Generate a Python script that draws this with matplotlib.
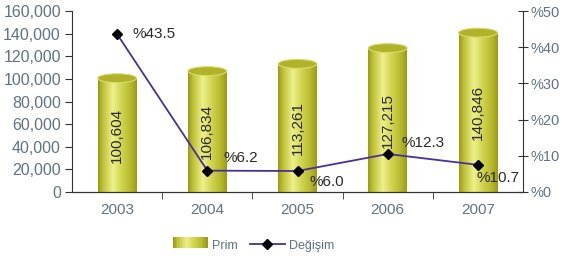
import matplotlib.pyplot as plt
import numpy as np
from matplotlib.colors import LinearSegmentedColormap
from matplotlib.patches import Rectangle, Ellipse, Patch
from matplotlib.lines import Line2D
from matplotlib.legend_handler import HandlerBase

plt.rcParams['font.family'] = ['Liberation Sans', 'DejaVu Sans']

years = ['2003', '2004', '2005', '2006', '2007']
prim = [100604, 106834, 113261, 127215, 140846]
degisim = [43.6, 5.9, 5.8, 10.5, 7.5]   # positions as drawn in the picture
prim_labels = ['100,604', '106,834', '113,261', '127,215', '140,846']
degisim_labels = ['%43.5', '%6.2', '%6.0', '%12.3', '%10.7']
# label offsets in pixels (dx, dy)
lab_off = [(15, 0), (16, 13), (12, -11), (14, 11), (-1, -13)]

gray = '#5f7384'
axc = '#333333'

fig = plt.figure(figsize=(5.63, 2.63), dpi=100)
ax = fig.add_axes([0.128, 0.27, 0.801, 0.688])
ax2 = ax.twinx()

cyl = LinearSegmentedColormap.from_list('cyl', [
    (0.0, '#9a9c18'), (0.12, '#bfc136'), (0.38, '#eef08c'),
    (0.6, '#d3d552'), (0.85, '#b6b82c'), (1.0, '#9a9c18')])
grad = np.linspace(0, 1, 64).reshape(1, -1)

w = 0.43
eh = 7900
x = np.arange(len(years))
for i, v in enumerate(prim):
    rect = Rectangle((x[i] - w / 2, 0), w, v, transform=ax.transData)
    im = ax.imshow(grad, cmap=cyl, aspect='auto',
                   extent=(x[i] - w / 2, x[i] + w / 2, 0, v), zorder=2)
    im.set_clip_path(rect)
    ax.add_patch(Ellipse((x[i], v), w, eh, facecolor='#b0b228',
                         edgecolor='#d9db70', lw=0.8, zorder=3))
    ax.text(x[i], v / 2, prim_labels[i], rotation=90, ha='center', va='center',
            fontsize=11, color='#2a2a2a', zorder=4)

ax.set_xlim(-0.5, 4.5)
ax.set_ylim(0, 160000)
ax.set_yticks(np.arange(0, 160001, 20000))
ax.set_yticklabels([f'{t:,}' for t in range(0, 160001, 20000)])
ax.set_xticks(x)
ax.set_xticklabels(years)
ax.set_xticks([0.5, 1.5, 2.5, 3.5], minor=True)
ax.tick_params(axis='x', which='major', length=0, pad=8, labelsize=11, labelcolor=gray)
ax.tick_params(axis='x', which='minor', length=5, direction='out', color=axc)
ax.tick_params(axis='y', length=5, direction='out', color=axc, labelsize=11.5,
               labelcolor=gray, pad=3)

ax2.plot(x, degisim, color='#4b2f9a', lw=1.3, marker='D', markersize=5,
         markerfacecolor='black', markeredgecolor='black', zorder=5)
for i, v in enumerate(degisim):
    dx, dy = lab_off[i]
    ax2.annotate(degisim_labels[i], (x[i], v), xytext=(dx, dy),
                 textcoords='offset pixels', ha='left', va='center',
                 fontsize=11, color='#2a2a2a')
ax2.set_ylim(0, 50)
ax2.set_yticks(range(0, 51, 10))
ax2.set_yticklabels([f'%{t}' for t in range(0, 51, 10)])
ax2.tick_params(axis='y', length=7, direction='inout', color=axc, labelsize=10.5,
                labelcolor=gray, pad=2)

for a in (ax, ax2):
    a.spines['top'].set_visible(False)
    for s in a.spines.values():
        s.set_color(axc)
ax2.spines['left'].set_visible(False)
ax.spines['right'].set_visible(False)


class GradientHandler(HandlerBase):
    def create_artists(self, legend, orig, xd, yd, width, height, fontsize, trans):
        n = 24
        arts = []
        for k in range(n):
            r = Rectangle((xd + k * width / n, yd), width / n + 0.3, height,
                          facecolor=cyl(k / (n - 1)), edgecolor='none', transform=trans)
            arts.append(r)
        return arts


handles = [Patch(facecolor='#c8ca48', edgecolor='none'),
           Line2D([], [], color='#4b2f9a', lw=1.3, marker='D', markersize=5,
                  markerfacecolor='black', markeredgecolor='black')]
fig.legend(handles, ['Prim', 'Değişim'], loc='center', bbox_to_anchor=(0.45, 0.065),
           ncol=2, frameon=False, fontsize=9, labelcolor=gray, handlelength=2.8,
           handleheight=1.0, columnspacing=1.0, handletextpad=0.3,
           handler_map={Patch: GradientHandler()})

fig.savefig('out.png', dpi=100)
